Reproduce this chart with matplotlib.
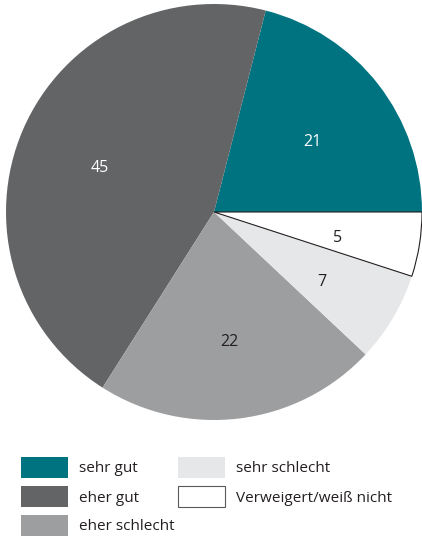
import matplotlib.pyplot as plt
from matplotlib.patches import Rectangle
from matplotlib.transforms import offset_copy

plt.rcParams['font.family'] = ['Open Sans', 'DejaVu Sans']

labels = ['sehr gut', 'eher gut', 'eher schlecht', 'sehr schlecht', 'Verweigert/weiß nicht']
values = [21, 45, 22, 7, 5]
colors = ['#007380', '#636466', '#9d9ea0', '#e6e7e9', '#ffffff']
text_colors = ['white', 'white', '#231f20', '#231f20', '#231f20']

W, H = 422, 537
fig = plt.figure(figsize=(W / 100, H / 100), dpi=100)

# pie axes: centre (214, 212) px, radius 208 px
ax = fig.add_axes([6 / W, (H - 420) / H, 416 / W, 416 / H])
wedges, texts = ax.pie(values, colors=colors, startangle=0, counterclock=True,
                       labels=[str(v) for v in values], labeldistance=0.6,
                       radius=1, wedgeprops={'linewidth': 0})
ax.set_xlim(-1, 1)
ax.set_ylim(-1, 1)
ax.set_aspect('equal')
ax.axis('off')

# only the white slice has an outline
wedges[-1].set_edgecolor('#231f20')
wedges[-1].set_linewidth(0.8)

lab_tr = offset_copy(ax.transData, fig=fig, x=0, y=-6, units='dots')
for t, c in zip(texts, text_colors):
    t.set_color(c)
    t.set_fontsize(11.5)
    t.set_ha('center')
    t.set_va('center')
    t.set_transform(lab_tr)

# legend, drawn by hand: 2 columns, 3 rows
col_x = [21, 178]
row_y = [457, 486, 515]
for i, (lab, col) in enumerate(zip(labels, colors)):
    c, r = i // 3, i % 3
    x0, y0 = col_x[c], row_y[r]
    ec = '#58595b' if col == '#ffffff' else 'none'
    fig.patches.append(Rectangle((x0 / W, 1 - (y0 + 21) / H), 47 / W, 21 / H,
                                 facecolor=col, edgecolor=ec, linewidth=0.8,
                                 transform=fig.transFigure, figure=fig))
    fig.text((x0 + 58) / W, 1 - (y0 + 12) / H, lab, fontsize=11,
             color='#231f20', ha='left', va='center')

plt.savefig('out.png', dpi=100)
